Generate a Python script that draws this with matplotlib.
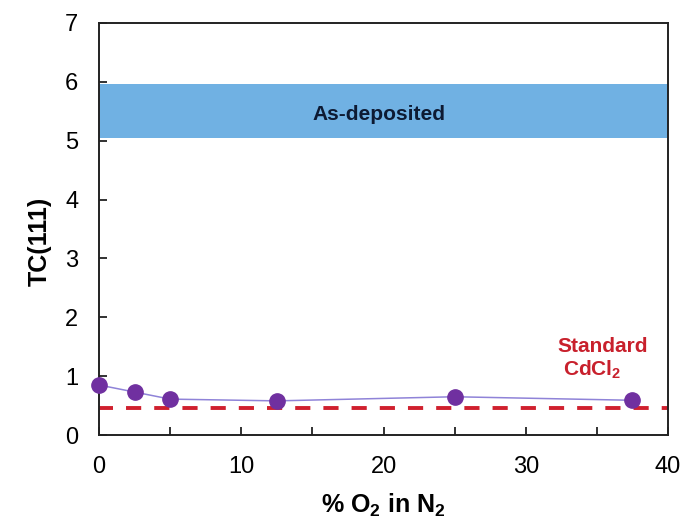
import matplotlib
matplotlib.use("Agg")
import matplotlib.pyplot as plt
from matplotlib.ticker import MultipleLocator

plt.rcParams['font.family'] = ['Liberation Sans', 'DejaVu Sans']
plt.rcParams['mathtext.fontset'] = 'custom'
plt.rcParams['mathtext.rm'] = 'Liberation Sans'
plt.rcParams['mathtext.bf'] = 'Liberation Sans:bold'

o2_percent = [0, 2.5, 5, 12.5, 25, 37.5]
tc111 = [0.85, 0.73, 0.61, 0.58, 0.65, 0.59]
standard_cdcl2 = 0.46
as_deposited_low = 5.05
as_deposited_high = 5.97

fig = plt.figure(figsize=(6.81, 5.25), dpi=100)
ax = fig.add_axes([0.1454, 0.1714, 0.8355, 0.7848])

ax.axhspan(as_deposited_low, as_deposited_high, color='#70b1e3', zorder=1, lw=0)
ax.text(19.7, 5.35, 'As-deposited', ha='center', va='baseline',
        fontsize=15, fontweight='bold', color='#0d1a33', zorder=3)

ax.axhline(standard_cdcl2, color='#d0202e', lw=2.8, ls=(0.3, (3.9, 3.35)), zorder=2)
ax.text(32.2, 1.41, 'Standard', ha='left', va='baseline', fontsize=15, fontweight='bold', color='#c8202c')
ax.text(32.6, 1.02, 'CdCl$_\\mathbf{2}$', ha='left', va='baseline', fontsize=15, fontweight='bold', color='#c8202c')

ax.plot(o2_percent, tc111, color='#8f83d8', lw=1.1, marker='o', markersize=11,
        markerfacecolor='#7030a0', markeredgecolor='#7030a0', zorder=4, clip_on=False)

ax.set_xlim(0, 40)
ax.set_ylim(0, 7)
ax.xaxis.set_major_locator(MultipleLocator(10))
ax.xaxis.set_minor_locator(MultipleLocator(5))
ax.yaxis.set_major_locator(MultipleLocator(1))
ax.tick_params(axis='both', which='both', direction='in', length=6, width=1.3, labelsize=17, pad=15, color='#222222')
for s in ax.spines.values():
    s.set_linewidth(1.4)
    s.set_color('#222222')

ax.set_xlabel('% O$_\\mathbf{2}$ in N$_\\mathbf{2}$', fontsize=18, fontweight='bold')
ax.set_ylabel('TC(111)', fontsize=18, fontweight='bold')
ax.xaxis.set_label_coords(0.5, -0.138)
ax.yaxis.set_label_coords(-0.083, 0.47)

fig.savefig('out.png', dpi=100)
